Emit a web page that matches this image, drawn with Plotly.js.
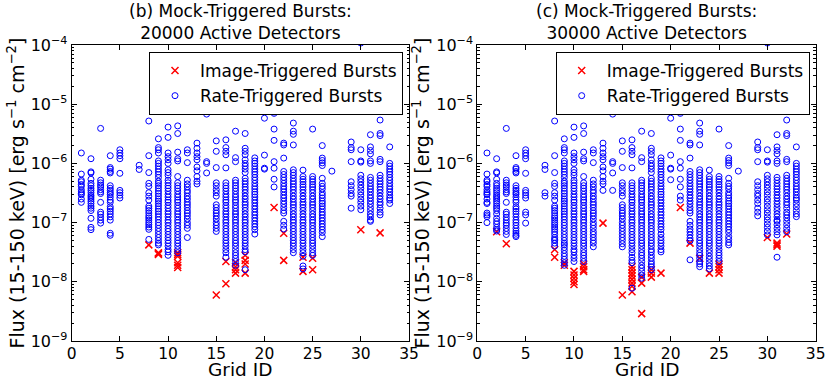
<!DOCTYPE html>
<html><head><meta charset="utf-8">
<script src="https://cdn.plot.ly/plotly-3.0.1.min.js"></script>
<style>html,body{margin:0;padding:0;background:#fff}#chart{width:831px;height:382px}</style>
</head><body><div id="chart"></div>
<script>
// Rate-triggered bursts, panel (b) 20000 detectors: [grid ID, fluxes]
const rateB = [
 [1,[1.5e-6,6.6e-7,5.2e-7,4.9e-7,4.4e-7,4.1e-7,3.6e-7,3.3e-7,3.1e-7,2.95e-7,2.5e-7,2.2e-7]],
 [2,[1.2e-6,7.2e-7,6.9e-7,5.4e-7,4.6e-7,4.2e-7,3.8e-7,3.5e-7,3.2e-7,2.9e-7,2.7e-7,2.5e-7,2.3e-7,2.1e-7,1.9e-7,1.75e-7,1.6e-7,1.18e-7,8.3e-8,7.6e-8]],
 [3,[3.9e-6,5.2e-7,4.7e-7,4.3e-7,4.0e-7,3.6e-7,3.3e-7,3.1e-7,2.2e-7,1.5e-7,1.38e-7,1.23e-7,1.1e-7,9.8e-8]],
 [4,[1.35e-6,8.5e-7,8.0e-7,7.3e-7,6.9e-7,4.2e-7,3.8e-7,3.5e-7,3.2e-7,3.0e-7,2.7e-7,2.4e-7,2.2e-7,1.85e-7,1.7e-7,1.55e-7,1.4e-7,1.25e-7,1.1e-7,6.6e-8,6.1e-8]],
 [5,[1.7e-6,1.5e-6,1.35e-6,1.2e-6,6.8e-7,3.5e-7,3.2e-7,2.9e-7,2.6e-7]],
 [7,[9.3e-7,7.9e-7]],
 [8,[5.2e-6,1.35e-6,7.0e-7,4.6e-7,4.1e-7,3.2e-7,2.8e-7,2.4e-7,1.9e-7,1.75e-7,1.6e-7,1.45e-7,1.3e-7,1.2e-7,1.1e-7,1.0e-7,9.2e-8,8.4e-8,7.7e-8,5.2e-8]],
 [9,[2.6e-6,1.85e-6,1.7e-6,1.5e-6,1.1e-6,1.0e-6,9.0e-7,8.0e-7,7.2e-7,6.5e-7,5.8e-7,5.0e-7,4.6e-7,4.2e-7,3.8e-7,3.4e-7,3.1e-7,2.8e-7,2.5e-7,2.3e-7,2.1e-7,1.9e-7,1.7e-7,1.55e-7,1.4e-7,1.25e-7,1.12e-7,1.0e-7,9.0e-8,8.0e-8,7.1e-8,6.3e-8,5.6e-8,5.0e-8,4.5e-8,4.2e-8]],
 [10,[4.1e-6,2.75e-6,1.5e-6,1.3e-6,1.15e-6,1.0e-6,7.8e-7,7.0e-7,6.3e-7,5.2e-7,4.7e-7,4.2e-7,3.8e-7,3.4e-7,3.0e-7,2.7e-7,2.4e-7,2.2e-7,1.95e-7,1.75e-7,1.55e-7,1.4e-7,1.25e-7,1.1e-7,1.0e-7,8.9e-8,7.9e-8,7.1e-8,6.3e-8,5.6e-8,5.0e-8,4.5e-8,4.0e-8,3.5e-8,3.2e-8,2.8e-8]],
 [11,[4.3e-6,3.2e-6,1.55e-6,1.2e-6,1.1e-6,6.0e-7,4.7e-7,4.2e-7,3.8e-7,3.4e-7,3.0e-7,2.7e-7,2.4e-7,2.2e-7,1.95e-7,1.75e-7,1.55e-7,1.4e-7,1.25e-7,1.1e-7,1.0e-7,8.9e-8,7.9e-8,7.1e-8,6.3e-8,5.6e-8,5.0e-8,4.5e-8,4.0e-8,3.5e-8,3.1e-8]],
 [12,[1.7e-6,1.5e-6,1.03e-6,5.2e-7,4.5e-7,4.0e-7,3.5e-7,3.2e-7,2.8e-7,2.5e-7,2.2e-7,2.0e-7,1.8e-7,1.6e-7,1.45e-7,1.3e-7,1.15e-7,1.0e-7,9.0e-8,8.0e-8,5.6e-8]],
 [13,[2.2e-6,1.8e-6,1.5e-6,1.3e-6,1.15e-6,8.7e-7,7.5e-7,6.0e-7,5.0e-7,4.5e-7]],
 [14,[6.8e-6,1.07e-6,1.0e-6,6.9e-7]],
 [15,[2.4e-6,1.6e-6,8.5e-7,4.7e-7,4.2e-7,3.6e-7,3.2e-7,2.8e-7,2.0e-7,1.8e-7,1.6e-7,1.45e-7,1.3e-7,1.15e-7,1.0e-7,9.0e-8,8.0e-8,7.1e-8]],
 [16,[2.5e-6,1.85e-6,1.6e-6,1.4e-6,8.4e-7,4.7e-7,4.2e-7,3.8e-7,3.4e-7,3.0e-7,2.7e-7,2.4e-7,2.2e-7,1.95e-7,1.75e-7,1.55e-7,1.4e-7,1.25e-7,1.1e-7,1.0e-7,8.9e-8,7.9e-8,7.1e-8,6.3e-8,5.6e-8,5.0e-8,4.5e-8,4.0e-8,3.5e-8,3.1e-8,2.6e-8]],
 [17,[3.5e-6,1.25e-6,1.07e-6,5.2e-7,4.7e-7,4.2e-7,3.8e-7,3.4e-7,3.0e-7,2.7e-7,2.4e-7,2.2e-7,1.95e-7,1.75e-7,1.55e-7,1.4e-7,1.25e-7,1.1e-7,1.0e-7,8.9e-8,7.9e-8,7.1e-8,6.3e-8,5.6e-8,5.0e-8,4.5e-8,4.0e-8,3.5e-8,3.1e-8,2.8e-8,2.5e-8,2.2e-8,1.9e-8]],
 [18,[3.2e-6,1.8e-6,1.6e-6,1.4e-6,1.15e-6,1.0e-6,9.0e-7,8.0e-7,7.0e-7,5.6e-7,5.0e-7,4.5e-7,4.0e-7,3.6e-7,3.2e-7,2.8e-7,2.5e-7,2.2e-7,2.0e-7,1.8e-7,1.6e-7,1.4e-7,1.25e-7,1.1e-7,1.0e-7,8.9e-8,7.9e-8,7.1e-8,6.3e-8,5.6e-8,5.0e-8,4.5e-8,4.0e-8,3.5e-8,3.2e-8,1.6e-8]],
 [19,[1.24e-6,1.1e-6,1.0e-6,9.0e-7,8.0e-7,7.2e-7,6.5e-7,5.8e-7,5.2e-7,4.6e-7,4.1e-7,3.7e-7,3.3e-7,3.0e-7,2.7e-7,2.4e-7,2.15e-7,1.9e-7,1.7e-7,1.5e-7,1.35e-7,1.2e-7,1.07e-7,9.5e-8,8.5e-8,7.6e-8,6.4e-8]],
 [20,[5.8e-6,1.38e-6,8.3e-7,8.0e-7]],
 [21,[7.4e-6,7.0e-6,3.8e-6,2.45e-6,1.07e-6,8.3e-7,5.4e-7,4.0e-7]],
 [22,[2.2e-6,2.05e-6,1.23e-6,7.3e-7,6.5e-7,5.8e-7,5.2e-7,4.6e-7,4.1e-7,3.7e-7,3.3e-7,2.9e-7,2.6e-7,2.3e-7,2.05e-7,1.8e-7,1.6e-7,1.45e-7,1.05e-7,9.0e-8,7.8e-8]],
 [23,[4.8e-6,3.5e-6,3.1e-6,2.05e-6,7.8e-7,7.0e-7,6.3e-7,5.6e-7,5.0e-7,4.5e-7,4.0e-7,3.6e-7,3.2e-7,2.8e-7,2.5e-7,2.2e-7,2.0e-7,1.8e-7,1.6e-7,1.4e-7,1.25e-7,1.1e-7,1.0e-7,8.9e-8,7.9e-8,7.1e-8,6.3e-8,5.6e-8,5.0e-8,4.5e-8,4.0e-8,3.5e-8,3.1e-8]],
 [24,[7.7e-7,6.0e-7,5.4e-7,4.9e-7,4.4e-7,4.0e-7,3.6e-7,3.2e-7,2.8e-7,2.5e-7,2.2e-7,2.0e-7,1.8e-7,1.6e-7,1.4e-7,1.25e-7,1.1e-7,1.0e-7,8.9e-8,7.9e-8,7.1e-8,6.3e-8,5.6e-8,5.0e-8,4.5e-8,4.0e-8,3.5e-8,3.1e-8,2.7e-8,1.85e-8,1.65e-8]],
 [25,[3.8e-6,6.0e-7,5.4e-7,4.9e-7,4.4e-7,4.0e-7,3.6e-7,3.2e-7,2.8e-7,2.5e-7,2.2e-7,2.0e-7,1.8e-7,1.6e-7,1.4e-7,1.25e-7,1.1e-7,1.0e-7,8.9e-8,7.9e-8,7.1e-8,6.3e-8,5.6e-8,5.0e-8,4.5e-8,4.0e-8,3.5e-8,3.1e-8,2.8e-8]],
 [26,[2.0e-6,1.23e-6,1.12e-6,1.02e-6,9.2e-7,5.6e-7,4.6e-7,4.1e-7,3.7e-7,3.2e-7,2.9e-7,2.6e-7,2.3e-7,2.1e-7,1.9e-7,1.7e-7,1.5e-7,1.35e-7,1.2e-7,1.07e-7,9.5e-8,8.5e-8,7.6e-8,6.8e-8,5.8e-8]],
 [27,[7.4e-7]],
 [29,[2.3e-6,1.85e-6,1.7e-6,1.07e-6,4.9e-7,4.2e-7,3.6e-7,3.1e-7,2.8e-7,1.75e-7]],
 [30,[1.08e-4,1.7e-6,1.1e-6,1.05e-6,6.3e-7,5.5e-7,4.9e-7,4.3e-7,3.8e-7,3.3e-7,2.9e-7,2.5e-7,2.2e-7,1.9e-7,1.65e-7]],
 [31,[3.05e-6,1.9e-6,1.65e-6,1.45e-6,1.1e-6,1.0e-6,5.8e-7,5.2e-7,4.6e-7,4.1e-7,3.7e-7,3.3e-7,2.9e-7,2.6e-7,2.3e-7,2.05e-7,1.8e-7,1.6e-7,1.4e-7,1.25e-7,1.1e-7,1.05e-7]],
 [32,[5.4e-6,3.2e-6,2.95e-6,1.17e-6,1.07e-6,6.3e-7,5.6e-7,5.0e-7,4.5e-7,4.0e-7,3.6e-7,3.2e-7,2.8e-7,2.5e-7,2.2e-7,2.0e-7,1.75e-7,1.5e-7,1.35e-7]],
 [33,[1.9e-6,1.0e-6,9.0e-7,8.0e-7,7.2e-7,6.5e-7,5.8e-7,5.2e-7,4.6e-7,4.1e-7,3.7e-7,3.3e-7,2.9e-7,2.6e-7,2.4e-7,2.1e-7]]
];
// Extra rate-triggered bursts seen only in panel (c) 30000 detectors
const rateExtraC = [
 [1,[2.1e-7,1.45e-7,1.35e-7,1.26e-7,1.0e-7]],
 [2,[1.4e-7,1.05e-7,9.5e-8,7.2e-8]],
 [3,[9.0e-8,8.0e-8,7.1e-8,6.3e-8]],
 [4,[1.0e-7,9.0e-8,8.0e-8,7.2e-8,5.8e-8]],
 [5,[1.5e-7,1.35e-7,9.8e-8]],
 [7,[3.2e-7,2.8e-7]],
 [8,[7.0e-8,6.3e-8,5.6e-8,5.0e-8,4.5e-8,4.0e-8]],
 [9,[3.8e-8,3.4e-8,3.0e-8,2.7e-8,2.4e-8,2.1e-8,1.9e-8]],
 [10,[2.5e-8,2.2e-8]],
 [11,[2.8e-8,2.5e-8,2.2e-8]],
 [12,[7.0e-8,6.3e-8,5.0e-8,4.5e-8,3.9e-8]],
 [13,[3.5e-7]],
 [14,[3.5e-7]],
 [15,[6.3e-8,5.6e-8,5.0e-8,4.4e-8,3.9e-8]],
 [16,[2.3e-8,2.1e-8,7.8e-9]],
 [17,[1.7e-8,1.5e-8,1.3e-8,1.15e-8]],
 [18,[2.8e-8,2.5e-8,2.2e-8,2.0e-8,1.8e-8]],
 [19,[5.6e-8,5.0e-8,4.5e-8,4.0e-8,3.5e-8,3.2e-8]],
 [20,[5.3e-7]],
 [21,[2.8e-7,2.4e-7]],
 [22,[7.0e-8,6.2e-8,5.5e-8,4.9e-8,2.35e-8]],
 [23,[2.8e-8,2.5e-8,2.2e-8,2.0e-8,1.8e-8]],
 [24,[2.4e-8,2.1e-8]],
 [25,[2.5e-8,2.2e-8]],
 [26,[5.2e-8,4.6e-8,4.2e-8]],
 [29,[2.4e-7,2.1e-7,1.5e-7,1.3e-7]],
 [30,[1.45e-7,1.25e-7,1.1e-7,9.5e-8,8.3e-8,7.2e-8,6.2e-8]],
 [31,[9.2e-8,8.0e-8,7.0e-8,6.2e-8,2.6e-8]],
 [32,[1.2e-7,1.05e-7,9.2e-8,8.0e-8,7.0e-8]],
 [33,[1.85e-7,1.6e-7,1.4e-7,1.26e-7]]
];
// Image-triggered bursts
const imageB = [
 [8,[4.2e-8]],[9,[3.1e-8,3.0e-8,2.9e-8]],[11,[3.1e-8,2.9e-8,2.7e-8,2.1e-8,1.9e-8,1.75e-8]],
 [15,[6.0e-9]],[16,[2.2e-8,9.3e-9]],[17,[2.1e-8,1.8e-8,1.6e-8,1.4e-8]],[18,[2.8e-8,2.3e-8,2.0e-8,1.4e-8]],
 [21,[1.8e-7]],[22,[6.6e-8,2.3e-8]],[24,[2.6e-8,1.5e-8]],[25,[2.5e-8,1.6e-8]],[30,[7.6e-8]],[32,[6.7e-8]]
];
const imageC = [
 [2,[7.0e-8]],[3,[4.4e-8]],[8,[3.5e-8,2.6e-8]],[9,[2.1e-8,1.9e-8]],[10,[1.5e-8,1.3e-8,1.15e-8,1.0e-8,9.0e-9]],
 [11,[2.0e-8,1.8e-8,1.6e-8,1.5e-8]],[13,[9.8e-8]],[15,[6.0e-9]],
 [16,[1.8e-8,1.6e-8,1.4e-8,1.25e-8,1.1e-8,9.5e-9,8.4e-9,6.8e-9]],[17,[1.2e-8,9.5e-9,2.9e-9]],
 [18,[1.6e-8,1.4e-8,1.2e-8]],[19,[1.4e-8]],[21,[1.8e-7]],[22,[4.5e-8]],[23,[2.5e-8]],[24,[1.4e-8]],
 [25,[2.0e-8,1.8e-8,1.6e-8,1.4e-8]],[30,[5.6e-8]],[31,[4.5e-8,4.2e-8,4.0e-8]],[32,[6.4e-8]]
];
const xTicks = [0,5,10,15,20,25,30,35];
const yTickVals = [1e-9,1e-8,1e-7,1e-6,1e-5,1e-4];
const yTickText = ['10<sup>\u22129</sup>','10<sup>\u22128</sup>','10<sup>\u22127</sup>','10<sup>\u22126</sup>','10<sup>\u22125</sup>','10<sup>\u22124</sup>'];
const panelTitles = ['(b) Mock-Triggered Bursts:<br>20000 Active Detectors','(c) Mock-Triggered Bursts:<br>30000 Active Detectors'];
const seriesNames = ['Image-Triggered Bursts','Rate-Triggered Bursts'];
const xTitle = 'Grid ID';
const yTitle = 'Flux (15-150 keV) [erg s<sup>\u22121</sup> cm<sup>\u22122</sup>]';

function flat(rows){const x=[],y=[];rows.forEach(r=>r[1].forEach(v=>{x.push(r[0]);y.push(v);}));return {x:x,y:y};}
const rateC = rateB.map(r=>{const e=rateExtraC.find(q=>q[0]===r[0]);return [r[0], e? r[1].concat(e[1]) : r[1]];});

const FONT='DejaVu Sans, sans-serif';
const imgMarker={symbol:'x-thin-open',size:7,color:'#ff0000',line:{width:1.5,color:'#ff0000'}};
const rateMarker={symbol:'circle-open',size:6,color:'#0000ff',line:{width:1,color:'#0000ff'}};
function tr(rows,name,marker,xa,ya,leg){const d=flat(rows);return {type:'scatter',mode:'markers',x:d.x,y:d.y,name:name,marker:marker,xaxis:xa,yaxis:ya,legend:leg,showlegend:true};}
const traces=[
 tr(imageB,seriesNames[0],imgMarker,'x','y','legend'),
 tr(rateB,seriesNames[1],rateMarker,'x','y','legend'),
 tr(imageC,seriesNames[0],imgMarker,'x2','y2','legend2'),
 tr(rateC,seriesNames[1],rateMarker,'x2','y2','legend2')
];
const minorVals=[];
for(let e=-9;e<-4;e++){for(let m=2;m<=9;m++){minorVals.push(m*Math.pow(10,e));}}
function xax(dom,anchor){return {domain:dom,anchor:anchor,range:[0,35],tickmode:'array',tickvals:xTicks,ticks:'inside',ticklen:5,tickcolor:'#000',
 mirror:'allticks',showline:true,linecolor:'#000',linewidth:1,showgrid:false,zeroline:false,tickfont:{family:FONT,size:15.5,color:'#000'},
 ticklabelstandoff:-2,automargin:false};}
function yax(dom,anchor){return {domain:dom,anchor:anchor,type:'log',range:[-9,-4],tickmode:'array',tickvals:yTickVals,ticktext:yTickText,
 ticks:'inside',ticklen:5,tickcolor:'#000',mirror:'allticks',showline:true,linecolor:'#000',linewidth:1,showgrid:false,zeroline:false,
 minor:{tickmode:'array',tickvals:minorVals,ticks:'inside',ticklen:2.5,tickcolor:'#000',showgrid:false},
 tickfont:{family:FONT,size:16,color:'#000'},
 title:{text:yTitle,font:{family:FONT,size:19,color:'#000'}},automargin:false};}
const xd1=[71.7/831,409/831], xd2=[477.3/831,815.7/831];
const legCommon={xanchor:'left',yanchor:'top',bordercolor:'#000',borderwidth:1,bgcolor:'#fff',font:{family:FONT,size:17,color:'#000'},traceorder:'normal',itemwidth:40};
function xTitleAnn(dom){return {text:xTitle,xref:'paper',yref:'paper',x:(dom[0]+dom[1])/2,y:0,xanchor:'center',yanchor:'top',yshift:-17,borderpad:0,showarrow:false,font:{family:FONT,size:18.5,color:'#000'}};}
function panelTitleAnn(dom,t){return {text:t,xref:'paper',yref:'paper',x:(dom[0]+dom[1])/2,y:1,xanchor:'center',yanchor:'bottom',yshift:0,showarrow:false,font:{family:FONT,size:17,color:'#000'}};}
const layout={
 width:831,height:382,margin:{l:0,r:0,t:45,b:41},paper_bgcolor:'#fff',plot_bgcolor:'#fff',
 font:{family:FONT,color:'#000'},
 xaxis:xax(xd1,'y'),yaxis:yax([0,1],'x'),xaxis2:xax(xd2,'y2'),yaxis2:yax([0,1],'x2'),
 legend:Object.assign({x:149/831,y:1-(52-45)/296},legCommon),
 legend2:Object.assign({x:555.7/831,y:1-(52-45)/296},legCommon),
 annotations:[panelTitleAnn(xd1,panelTitles[0]),panelTitleAnn(xd2,panelTitles[1]),xTitleAnn(xd1),xTitleAnn(xd2)],
 showlegend:true
};
Plotly.newPlot('chart',traces,layout,{displayModeBar:false,staticPlot:true});
</script></body></html>
